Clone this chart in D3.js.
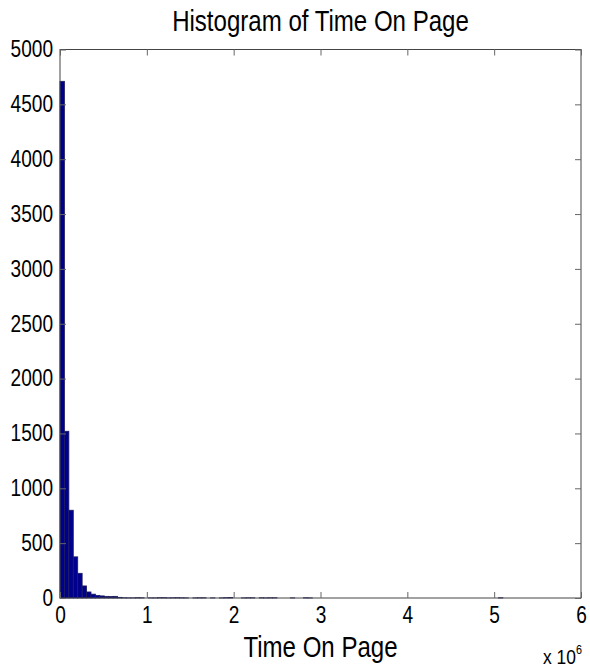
<!DOCTYPE html>
<html>
<head>
<meta charset="utf-8">
<script src="https://cdn.jsdelivr.net/npm/d3@7/dist/d3.min.js"></script>
<style>
  html, body { margin: 0; padding: 0; background: #fff; }
  svg text { font-family: "Liberation Sans", Arial, Helvetica, sans-serif; fill: #000; }
</style>
</head>
<body>
<svg id="chart" width="590" height="672"></svg>
<script>
// Histogram bins: 100 equal bins of time on page (ms), counts per bin
const binWidth = 51000;
const counts = [
  4710, 1520, 800, 375, 225, 110, 55, 35, 24, 19,
  15, 14, 15, 6, 2, 1, 1, 3, 2, 0,
  1, 1, 3, 3, 1, 2, 3, 2, 1, 0,
  1, 2, 2, 0, 1, 0, 1, 3, 4, 0,
  0, 1, 2, 2, 0, 2, 1, 2, 2, 0,
  0, 0, 1, 0, 0, 2, 1, 0, 0, 0,
  0, 0, 0, 0, 0, 0, 0, 0, 0, 0,
  0, 0, 0, 0, 0, 0, 0, 0, 0, 0,
  0, 0, 0, 0, 0, 0, 0, 0, 0, 0,
  0, 0, 0, 0, 0, 0, 0, 0, 0, 2
];
const xTicks = [0, 1e6, 2e6, 3e6, 4e6, 5e6, 6e6];
const yTicks = [0, 500, 1000, 1500, 2000, 2500, 3000, 3500, 4000, 4500, 5000];
const title = "Histogram of Time On Page";
const xLabel = "Time On Page";

const bins = counts.map((c, i) => ({ x0: i * binWidth, x1: (i + 1) * binWidth, count: c }));

const svg = d3.select("#chart");
const plotLeft = 60, plotRight = 581, plotTop = 49.5, plotBottom = 598;
const narrow = 0.83; // condensed lettering

// compress text horizontally about its anchor x
function squeeze(sel) {
  sel.each(function () {
    const t = d3.select(this);
    const ax = +t.attr("x") || 0;
    t.attr("transform", `translate(${ax},0) scale(${narrow},1) translate(${-ax},0)`);
  });
}

const x = d3.scaleLinear().domain([0, 6e6]).range([plotLeft, plotRight]);
const y = d3.scaleLinear().domain([0, 5000]).range([plotBottom, plotTop]);

// bars
svg.append("g")
  .selectAll("rect")
  .data(bins.filter(d => d.count > 0))
  .join("rect")
  .attr("x", d => x(d.x0))
  .attr("y", d => y(d.count))
  .attr("width", d => x(d.x1) - x(d.x0))
  .attr("height", d => y(0) - y(d.count))
  .attr("fill", "#00008f")
  .attr("stroke", "#1c1c5c")
  .attr("stroke-width", 0.8);

// box
svg.append("rect")
  .attr("x", plotLeft).attr("y", plotTop)
  .attr("width", plotRight - plotLeft).attr("height", plotBottom - plotTop)
  .attr("fill", "none").attr("stroke", "#444").attr("stroke-width", 1);

const tickLen = 6;
const fmt = d => d / 1e6;

// bottom axis: inward ticks, labels below
const xb = svg.append("g").attr("transform", `translate(0,${plotBottom})`)
  .call(d3.axisBottom(x).tickValues(xTicks).tickFormat(fmt).tickSizeInner(-tickLen).tickSizeOuter(0).tickPadding(9));
xb.select(".domain").remove();
xb.selectAll("line").attr("stroke", "#666");
xb.selectAll("text").attr("font-size", 23).attr("fill", "#000").call(squeeze);

// top axis ticks
const xt = svg.append("g").attr("transform", `translate(0,${plotTop})`)
  .call(d3.axisTop(x).tickValues(xTicks).tickFormat("").tickSizeInner(-tickLen).tickSizeOuter(0));
xt.select(".domain").remove();
xt.selectAll("line").attr("stroke", "#666");

// left axis
const yl = svg.append("g").attr("transform", `translate(${plotLeft},0)`)
  .call(d3.axisLeft(y).tickValues(yTicks).tickFormat(d3.format("d")).tickSizeInner(-tickLen).tickSizeOuter(0).tickPadding(7));
yl.select(".domain").remove();
yl.selectAll("line").attr("stroke", "#666");
yl.selectAll("text").attr("font-size", 23).attr("fill", "#000").call(squeeze);

// right axis ticks
const yr = svg.append("g").attr("transform", `translate(${plotRight},0)`)
  .call(d3.axisRight(y).tickValues(yTicks).tickFormat("").tickSizeInner(-tickLen).tickSizeOuter(0));
yr.select(".domain").remove();
yr.selectAll("line").attr("stroke", "#666");

// title
svg.append("text")
  .attr("x", (plotLeft + plotRight) / 2).attr("y", 31)
  .attr("text-anchor", "middle").attr("font-size", 29)
  .text(title).call(squeeze);

// x axis label
svg.append("text")
  .attr("x", (plotLeft + plotRight) / 2).attr("y", 657)
  .attr("text-anchor", "middle").attr("font-size", 29)
  .text(xLabel).call(squeeze);

// exponent note
const ex = svg.append("text")
  .attr("x", plotRight + 1).attr("y", 664)
  .attr("text-anchor", "end").attr("font-size", 21);
ex.append("tspan").text("x 10");
ex.append("tspan").attr("dy", -10).attr("font-size", 13).text("6");
ex.call(squeeze);
</script>
</body>
</html>
